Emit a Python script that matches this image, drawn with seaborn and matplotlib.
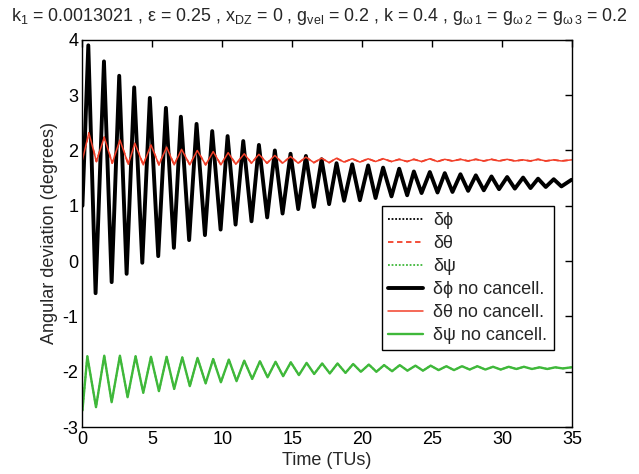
import matplotlib
matplotlib.use("Agg")
import matplotlib.pyplot as plt
import seaborn as sns

# ---- data ----
t_phi = [0.0, 0.42, 0.94, 1.54, 2.09, 2.63, 3.16, 3.70, 4.28, 4.82, 5.42, 5.97, 6.54, 7.04, 7.63,
         8.16, 8.76, 9.28, 9.88, 10.38, 10.95, 11.50, 12.09, 12.62, 13.21, 13.76, 14.31, 14.88,
         15.43, 15.98, 16.55, 17.10, 17.64, 18.17, 18.71, 19.29, 19.84, 20.43, 20.96, 21.50,
         22.10, 22.65, 23.22, 23.70, 24.25, 24.84, 25.39, 25.91, 26.46, 27.03, 27.58, 28.13,
         28.70, 29.25, 29.79, 30.37, 30.92, 31.51, 32.04, 32.58, 33.13, 33.70, 34.25, 34.97]
phi = [1.00, 3.90, -0.58, 3.61, -0.38, 3.35, -0.23, 3.14, -0.03, 2.95, 0.09, 2.77, 0.24, 2.61, 0.38,
       2.48, 0.47, 2.35, 0.57, 2.26, 0.66, 2.17, 0.72, 2.10, 0.79, 2.00, 0.86, 1.94,
       0.94, 1.90, 0.98, 1.84, 1.03, 1.77, 1.09, 1.75, 1.10, 1.73, 1.14, 1.69,
       1.17, 1.67, 1.19, 1.62, 1.23, 1.61, 1.24, 1.59, 1.25, 1.57, 1.27, 1.55,
       1.28, 1.53, 1.30, 1.52, 1.31, 1.51, 1.32, 1.49, 1.34, 1.48, 1.35, 1.47]

t_theta = [0.0, 0.46, 1.00, 1.56, 2.13, 2.68, 3.28, 3.75, 4.35, 4.90, 5.47, 6.02, 6.56, 7.09, 7.68,
           8.21, 8.81, 9.35, 9.90, 10.42, 10.97, 11.57, 12.09, 12.62, 13.20, 13.76, 14.31, 14.88,
           15.43, 15.98, 16.55, 17.10, 17.64, 18.17, 18.71, 19.29, 19.84, 20.43, 20.96, 21.50,
           22.10, 22.65, 23.22, 23.70, 24.25, 24.84, 25.39, 25.91, 26.46, 27.03, 27.58, 28.13,
           28.70, 29.25, 29.79, 30.37, 30.92, 31.51, 32.04, 32.58, 33.13, 33.70, 34.25, 34.97]
theta = [1.83, 2.32, 1.80, 2.24, 1.77, 2.19, 1.75, 2.13, 1.74, 2.10, 1.74, 2.06, 1.74, 2.02, 1.74,
         2.00, 1.74, 1.98, 1.74, 1.96, 1.75, 1.94, 1.77, 1.93, 1.77, 1.91, 1.77, 1.89,
         1.77, 1.88, 1.78, 1.86, 1.78, 1.86, 1.79, 1.85, 1.79, 1.85, 1.80, 1.85,
         1.80, 1.84, 1.80, 1.84, 1.80, 1.85, 1.80, 1.84, 1.81, 1.84, 1.81, 1.84,
         1.81, 1.84, 1.81, 1.84, 1.81, 1.83, 1.81, 1.84, 1.81, 1.83, 1.81, 1.83]

t_psi = [0.0, 0.35, 0.97, 1.56, 2.09, 2.68, 3.23, 3.80, 4.35, 4.90, 5.47, 6.02, 6.56, 7.14, 7.68,
         8.23, 8.81, 9.35, 9.90, 10.47, 11.02, 11.57, 12.14, 12.69, 13.24, 13.81, 14.35, 14.90,
         15.48, 16.03, 16.57, 17.14, 17.69, 18.24, 18.81, 19.36, 19.91, 20.48, 21.02, 21.57,
         22.14, 22.69, 23.24, 23.81, 24.35, 24.90, 25.47, 26.02, 26.57, 27.14, 27.69, 28.24,
         28.81, 29.36, 29.91, 30.48, 31.03, 31.57, 32.14, 32.69, 33.24, 33.81, 34.35, 34.97]
psi = [-2.70, -1.72, -2.64, -1.71, -2.55, -1.71, -2.46, -1.72, -2.38, -1.73, -2.35, -1.73, -2.31, -1.74, -2.26,
       -1.75, -2.21, -1.77, -2.19, -1.78, -2.17, -1.80, -2.13, -1.81, -2.10, -1.82, -2.08, -1.83,
       -2.06, -1.84, -2.04, -1.85, -2.03, -1.85, -2.02, -1.86, -2.00, -1.87, -2.00, -1.88,
       -1.99, -1.88, -1.98, -1.89, -1.98, -1.89, -1.97, -1.90, -1.97, -1.90, -1.96, -1.90,
       -1.96, -1.91, -1.96, -1.91, -1.95, -1.91, -1.95, -1.92, -1.95, -1.92, -1.94, -1.92]

x_ticks = [0, 5, 10, 15, 20, 25, 30, 35]
y_ticks = [-3, -2, -1, 0, 1, 2, 3, 4]
labels_cancel = ["δϕ", "δθ", "δψ"]
labels_nocancel = ["δϕ no cancell.", "δθ no cancell.", "δψ no cancell."]

# ---- style ----
sns.set_style("white")
plt.rcParams["font.family"] = ["Liberation Sans", "DejaVu Sans"]
plt.rcParams["mathtext.default"] = "regular"
plt.rcParams["axes.unicode_minus"] = False

BLACK = "#000000"
RED = "#f2402a"
GREEN = "#3fb83a"

fig = plt.figure(figsize=(6.39, 4.74), dpi=100)
ax = fig.add_axes([0.129, 0.099, 0.766, 0.817])

series = [(t_phi, phi, BLACK), (t_theta, theta, RED), (t_psi, psi, GREEN)]
dotted_styles = [(0, (1, 1)), (0, (3, 2)), (0, (1, 1))]
for (tt, yy, c), lab, ls in zip(series, labels_cancel, dotted_styles):
    sns.lineplot(x=tt, y=yy, ax=ax, color=c, lw=1.3, linestyle=ls, label=lab,
                 sort=False, estimator=None)
widths = [2.8, 1.1, 1.7]
for (tt, yy, c), lab, w in zip(series, labels_nocancel, widths):
    sns.lineplot(x=tt, y=yy, ax=ax, color=c, lw=w, label=lab,
                 sort=False, estimator=None, solid_joinstyle="round",
                 solid_capstyle="round")

ax.set_xlim(0, 35)
ax.set_ylim(-3, 4)
ax.set_xticks(x_ticks)
ax.set_yticks(y_ticks)
ax.tick_params(direction="in", length=5, width=1, top=True, right=True,
               labelsize=13, colors="black", pad=3)
for s in ax.spines.values():
    s.set_color("black")
    s.set_linewidth(1.0)
    s.set_visible(True)

ax.set_xlabel("Time (TUs)", fontsize=13, labelpad=3)
ax.set_ylabel("Angular deviation (degrees)", fontsize=13, labelpad=3)

title = ("k$_1$ = 0.0013021 , ε = 0.25 , x$_{DZ}$ = 0 , g$_{vel}$ = 0.2 , k = 0.4 , "
         "g$_{ω\\,1}$ = g$_{ω\\,2}$ = g$_{ω\\,3}$ = 0.2")
fig.text(0.5, 0.966, title, ha="center", va="center", fontsize=12.9)

leg = ax.legend(loc="lower right", bbox_to_anchor=(0.963, 0.198), fontsize=13,
                frameon=True, fancybox=False, edgecolor="black", framealpha=1,
                handlelength=1.9, handletextpad=0.6, borderpad=0.35, labelspacing=0.33,
                borderaxespad=0)
leg.get_frame().set_linewidth(1.0)

fig.savefig("out.png", dpi=100)
